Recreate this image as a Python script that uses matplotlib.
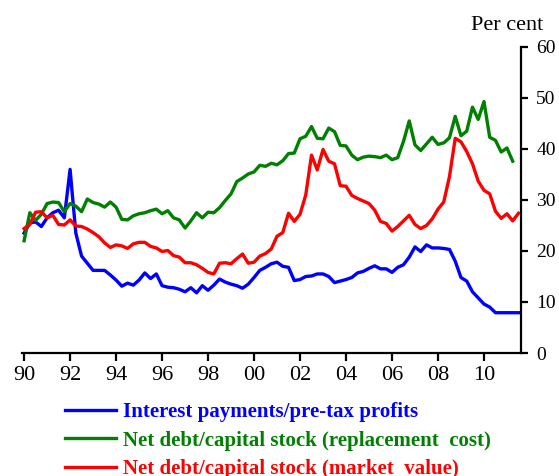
import numpy as np
import matplotlib

matplotlib.use("Agg")
import matplotlib.pyplot as plt

# Quarterly data, 1990 Q1 onwards (per cent)
start_year = 1990.0

interest_payments = [
    23.5, 25.5, 25.7, 24.8, 26.5, 27.5, 28.0, 26.5, 36.0, 23.5, 19.0, 17.6,
    16.2, 16.2, 16.2, 15.3, 14.3, 13.1, 13.7, 13.3, 14.3, 15.7, 14.6, 15.5,
    13.2, 12.9, 12.8, 12.5, 12.0, 12.8, 11.8, 13.2, 12.3, 13.3, 14.5, 13.9,
    13.5, 13.2, 12.7, 13.5, 14.8, 16.2, 16.8, 17.5, 17.8, 17.0, 16.8, 14.2,
    14.4, 15.0, 15.1, 15.5, 15.5, 15.0, 13.8, 14.1, 14.4, 14.8, 15.7, 16.0,
    16.6, 17.1, 16.5, 16.5, 15.8, 16.8, 17.3, 18.8, 20.8, 19.9, 21.2, 20.6,
    20.6, 20.5, 20.3, 18.0, 14.8, 14.1, 12.0, 10.8, 9.6, 9.0, 7.9, 7.9,
    7.9, 7.9, 7.9,
]

debt_replacement = [
    22.0, 27.5, 26.0, 27.2, 29.3, 29.6, 29.5, 27.7, 29.3, 28.8, 27.7, 30.2,
    29.5, 29.2, 28.6, 29.6, 28.6, 26.2, 26.1, 26.9, 27.3, 27.5, 27.9, 28.2,
    27.3, 27.9, 26.5, 26.1, 24.5, 25.9, 27.5, 26.5, 27.6, 27.5, 28.5, 29.9,
    31.2, 33.6, 34.3, 35.1, 35.5, 36.8, 36.6, 37.2, 36.9, 37.7, 39.1, 39.2,
    42.0, 42.5, 44.4, 42.1, 42.0, 44.1, 43.4, 40.7, 40.6, 38.8, 37.9, 38.4,
    38.6, 38.5, 38.3, 38.8, 37.9, 38.3, 41.5, 45.5, 40.8, 39.7, 41.0, 42.3,
    40.9, 41.2, 42.2, 46.4, 42.6, 43.5, 48.2, 45.8, 49.3, 42.3, 41.7, 39.4,
    40.2, 37.6,
]

debt_market = [
    24.4, 25.2, 27.6, 27.7, 26.5, 27.0, 25.2, 25.1, 26.1, 24.9, 24.8, 24.3,
    23.6, 22.8, 21.6, 20.7, 21.2, 21.0, 20.5, 21.4, 21.7, 21.7, 20.9, 20.6,
    19.9, 20.1, 19.1, 18.8, 17.7, 17.7, 17.3, 16.6, 15.8, 15.5, 17.6, 17.7,
    17.5, 18.5, 19.4, 17.6, 17.8, 19.0, 19.5, 20.4, 22.9, 23.6, 27.4, 25.8,
    27.2, 31.0, 38.8, 35.9, 39.9, 37.6, 37.1, 32.8, 32.7, 30.9, 30.3, 29.8,
    29.3, 28.0, 25.8, 25.4, 23.9, 24.8, 25.9, 27.0, 25.2, 24.4, 25.0, 26.3,
    28.2, 29.6, 34.6, 42.1, 41.4, 39.5, 37.1, 33.7, 31.9, 31.2, 27.8, 26.4,
    27.3, 25.9, 27.4,
]

labels = [
    "Interest payments/pre-tax profits",
    "Net debt/capital stock (replacement  cost)",
    "Net debt/capital stock (market  value)",
]
colors = ["#0000ff", "#008000", "#ff0000"]

tick_years = list(range(1990, 2011, 2))
tick_labels = [f"{y % 100:02d}" for y in tick_years]


def quarters(series):
    return start_year + np.arange(len(series)) * 0.25


plt.rcParams["font.family"] = ["Liberation Serif", "DejaVu Serif"]

fig = plt.figure(figsize=(5.59, 4.76), dpi=100)
ax = fig.add_axes([0.0394, 0.2584, 0.8926, 0.6429])

for series, label, color in zip(
    [interest_payments, debt_replacement, debt_market], labels, colors
):
    ax.plot(quarters(series), series, color=color, linewidth=2.4, label=label)

ax.set_xlim(1989.91, 2011.61)
ax.set_ylim(0, 60)

ax.spines["left"].set_visible(False)
ax.spines["top"].set_visible(False)
ax.spines["right"].set_linewidth(1.6)
ax.spines["bottom"].set_linewidth(1.6)

ax.set_xticks(tick_years)
ax.set_xticklabels(tick_labels)
ax.set_yticks(range(0, 61, 10))
ax.yaxis.tick_right()
ax.tick_params(axis="x", direction="out", length=5.5, width=1.6, labelsize=16, pad=4)
ax.tick_params(axis="y", direction="out", length=5, width=1.6, labelsize=14, pad=6)

fig.text(0.971, 0.947, "Per cent", ha="right", va="center", fontsize=16)

leg = fig.legend(
    loc="upper left",
    bbox_to_anchor=(0.117, 0.155),
    frameon=False,
    handlelength=2.45,
    handletextpad=0.3,
    labelspacing=0.4,
    borderpad=0,
    borderaxespad=0,
    prop={"weight": "bold", "size": 15},
    labelcolor="linecolor",
)

fig.savefig("out.png", dpi=100)
